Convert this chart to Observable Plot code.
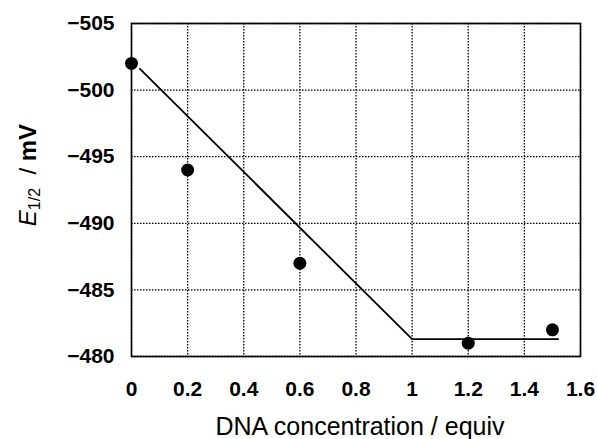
<!DOCTYPE html>
<html>
<head>
<meta charset="utf-8">
<script src="https://cdn.jsdelivr.net/npm/d3@7"></script>
<script src="https://cdn.jsdelivr.net/npm/@observablehq/plot@0.6"></script>
<style>
  html, body { margin: 0; padding: 0; background: #fff; }
  #chart svg { display: block; }
</style>
</head>
<body>
<div id="chart"></div>
<script>
// Measured points
const concentration = [0, 0.2, 0.6, 1.2, 1.5];
const e12 = [-502, -494, -487, -481, -482];
// Fitted line (break at 1 equiv)
const fitX = [0.03, 1, 1.52];
const fitY = [-501.6, -481.3, -481.3];
// Ticks
const xTicks = [0, 0.2, 0.4, 0.6, 0.8, 1, 1.2, 1.4, 1.6];
const yTicks = [-505, -500, -495, -490, -485, -480];

const points = concentration.map((x, i) => ({x, y: e12[i]}));
const fit = fitX.map((x, i) => ({x, y: fitY[i]}));

const W = 597, H = 439;
const font = "'Liberation Sans', Arial, Helvetica, sans-serif";

const chart = Plot.plot({
  width: W,
  height: H,
  marginLeft: 131,
  marginRight: 17,
  marginTop: 23,
  marginBottom: 83,
  style: {fontFamily: font, fontSize: "21px", fontWeight: "bold", color: "#000", background: "#fff"},
  x: {domain: [0, 1.6], ticks: xTicks, tickFormat: d => String(+d.toFixed(1)), tickSize: 0, tickPadding: 25, label: null},
  y: {domain: [-480, -505], ticks: yTicks, tickFormat: d => "\u2212" + Math.abs(d), tickSize: 0, tickPadding: 17, label: null},
  marks: [
    Plot.gridX(xTicks, {stroke: "#000", strokeOpacity: 1, strokeWidth: 1.3, strokeDasharray: "1.5,1.5"}),
    Plot.gridY(yTicks, {stroke: "#000", strokeOpacity: 1, strokeWidth: 1.3, strokeDasharray: "1.5,1.5"}),
    Plot.frame({stroke: "#000", strokeWidth: 1.6}),
    Plot.line(fit, {x: "x", y: "y", stroke: "#000", strokeWidth: 1.8}),
    Plot.dot(points, {x: "x", y: "y", r: 6.5, fill: "#000", stroke: "none"})
  ]
});

document.getElementById("chart").appendChild(chart);

const svg = d3.select(chart);
// x-axis title
svg.append("text")
  .attr("x", 360).attr("y", 435)
  .attr("text-anchor", "middle")
  .attr("font-family", font)
  .attr("font-size", 25)
  .attr("font-weight", "normal")
  .attr("fill", "#000")
  .text("DNA concentration / equiv");

// y-axis title: E1/2 / mV
const yt = svg.append("text")
  .attr("transform", "translate(36,175) rotate(-90)")
  .attr("text-anchor", "middle")
  .attr("font-family", font)
  .attr("font-size", 24)
  .attr("font-weight", "normal")
  .attr("fill", "#000");
yt.append("tspan").attr("font-style", "italic").text("E");
yt.append("tspan").attr("font-size", 16).attr("dy", 4).text("1/2");
yt.append("tspan").attr("dy", -4).text("\u00a0\u00a0/ ");
yt.append("tspan").attr("font-weight", "bold").text("mV");
</script>
</body>
</html>
